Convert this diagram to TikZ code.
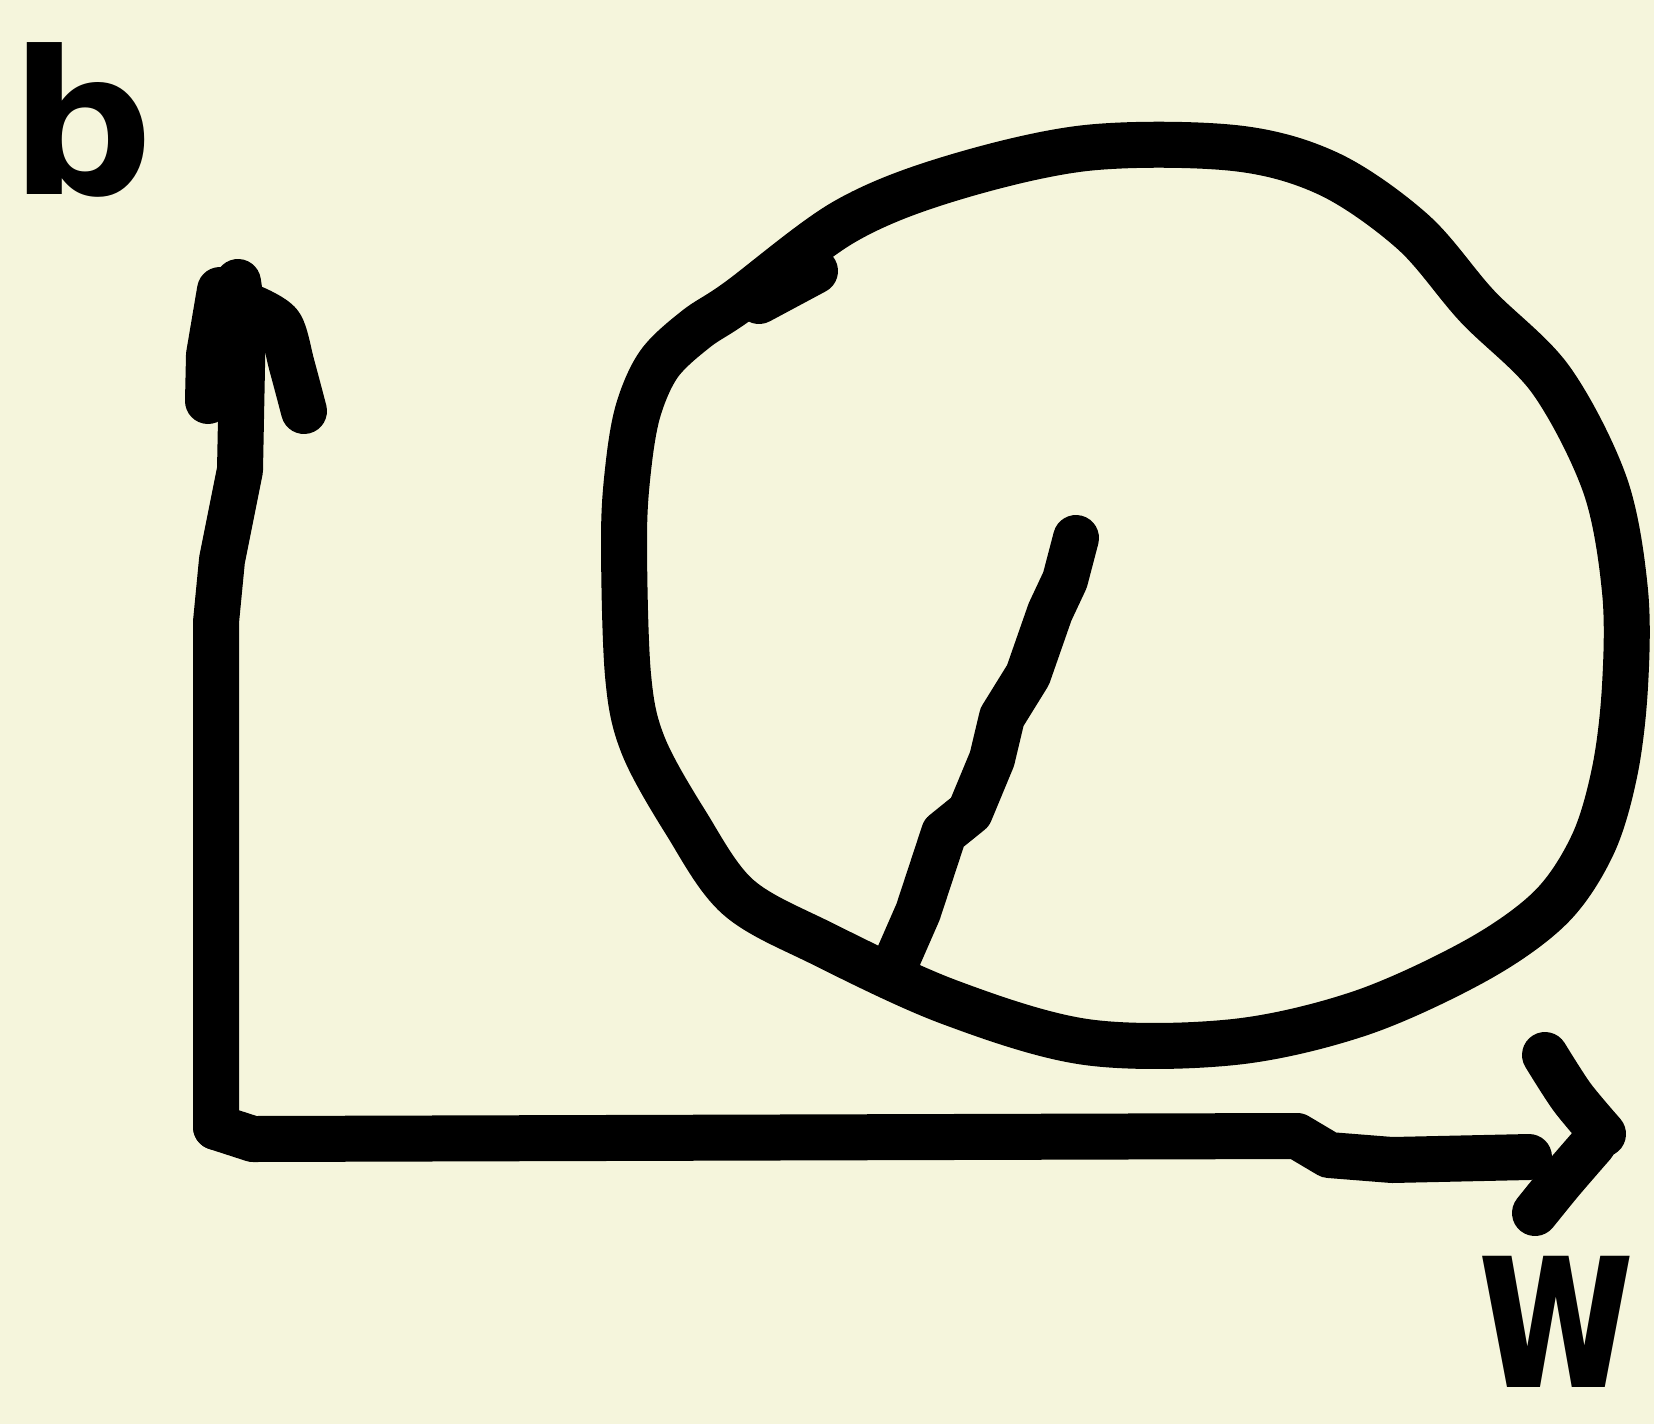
\documentclass[tikz,border=0pt]{standalone}
\usepackage{fontspec}
\setmainfont{DejaVu Sans}
\definecolor{paper}{RGB}{245,245,220}
\begin{document}
\begin{tikzpicture}[x=0.5pt,y=-0.5pt,
  ink/.style={line width=23pt,line cap=round,line join=round,black},
  letter/.style={font=\bfseries\fontsize{100}{100}\selectfont,inner sep=3pt}]
\fill[paper] (0,0) rectangle (1654,1424);
\useasboundingbox (0,0) rectangle (1654,1424);
% vertical axis
\draw[ink] (216,1127) -- (216,622) -- (222,560) -- (240,470) -- (243,316) -- (238,282);
\draw[ink] (208,401) -- (209,355) -- (220,290);
\draw[ink] plot[smooth] coordinates {(253,308) (280,325) (292,366) (304,411)};
% horizontal axis
\draw[ink] (216,1127) -- (253,1139) -- (1297,1136) -- (1329,1155) -- (1392,1160) -- (1529,1157);
\draw[ink] plot[smooth] coordinates {(1545,1055) (1572,1097) (1603,1134)};
\draw[ink] plot[smooth] coordinates {(1535,1213) (1561,1181) (1593,1144)};
% ellipse
\draw[ink] plot[smooth cycle,tension=0.55] coordinates {
(738,301) (696,329) (659,364) (638,411) (628,470) (624,540) (628,675)
(643,745) (686,823) (738,897) (823,944) (949,1002) (1086,1042) (1234,1042)
(1361,1013) (1477,960) (1551,907) (1593,844) (1615,770) (1625,686)
(1625,591) (1605,485) (1551,380) (1477,306) (1413,232) (1329,174)
(1234,148) (1086,148) (949,179) (844,222)};
\draw[ink] (759,301) -- (815,271);
% radius line
\draw[ink] (897,960) -- (918,912) -- (944,833) -- (970,812) -- (992,759) -- (1002,717) -- (1028,675) -- (1050,612) -- (1065,580) -- (1076,538);
% labels
\node[letter] (b) at (82,120) {b};
\node[letter,font=\bfseries\fontsize{120}{120}\selectfont,xscale=0.72] (w) at (1556,1322) {w};
\end{tikzpicture}
\end{document}
